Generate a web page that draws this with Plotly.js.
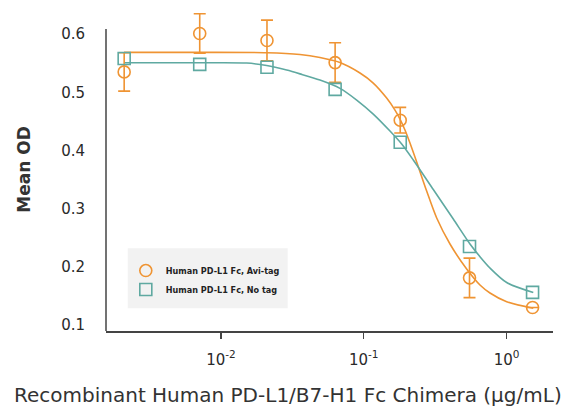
<!DOCTYPE html>
<html>
<head>
<meta charset="utf-8">
<script src="https://cdn.plot.ly/plotly-3.0.1.min.js"></script>
<style>html,body{margin:0;padding:0;background:#fff;}#chart{width:568px;height:407px;}</style>
</head>
<body>
<div id="chart"></div>
<script>
// concentration (µg/mL)
const conc = [0.0021, 0.0071, 0.021, 0.063, 0.18, 0.55, 1.52];
// Human PD-L1 Fc, Avi-tag
const aviMean = [0.535, 0.601, 0.589, 0.551, 0.452, 0.181, 0.130];
const aviErr  = [0.033, 0.034, 0.035, 0.034, 0.022, 0.034, 0.0];
// Human PD-L1 Fc, No tag
const noTagMean = [0.558, 0.548, 0.543, 0.505, 0.414, 0.235, 0.156];

// fitted curves
const aviFitX = [0.002093, 0.007128, 0.02089, 0.03574, 0.04935, 0.06813, 0.09405, 0.1165, 0.1446, 0.1654, 0.1793, 0.1943, 0.2106, 0.2347, 0.2757, 0.3240, 0.4015, 0.5255, 0.6512, 0.7651, 1.0016, 1.538];
const aviFitY = [0.5686, 0.5686, 0.5680, 0.5648, 0.5596, 0.5510, 0.5330, 0.5158, 0.4900, 0.4694, 0.4540, 0.4351, 0.4127, 0.3801, 0.3302, 0.2839, 0.2392, 0.1962, 0.1687, 0.1550, 0.1400, 0.1287];
const noTagFitX = [0.002093, 0.007128, 0.01514, 0.02089, 0.02885, 0.03574, 0.04935, 0.06813, 0.08919, 0.1165, 0.1526, 0.1843, 0.2222, 0.3068, 0.4234, 0.5542, 0.6512, 0.7651, 1.0016, 1.538];
const noTagFitY = [0.5507, 0.5507, 0.5502, 0.5459, 0.5381, 0.5316, 0.5210, 0.5067, 0.4866, 0.4625, 0.4333, 0.4110, 0.3835, 0.3328, 0.2821, 0.2392, 0.2174, 0.1979, 0.1730, 0.1558];

const xTickVals = [0.01, 0.1, 1];
const xTickText = ['10<sup>-2</sup>', '10<sup>-1</sup>', '10<sup>0</sup>'];
const yTickVals = [0.1, 0.2, 0.3, 0.4, 0.5, 0.6];
const yTickText = ['0.1', '0.2', '0.3', '0.4', '0.5', '0.6'];

const seriesNames = ['Human PD-L1 Fc, Avi-tag', 'Human PD-L1 Fc, No tag'];
const xTitle = 'Recombinant Human PD-L1/B7-H1 Fc Chimera (\u03BCg/mL)';
const yTitle = 'Mean OD';

const ORANGE = '#EF9433';
const TEAL = '#5FA9A1';
const FONT = '"DejaVu Sans", Arial, sans-serif';
const Y_BOTTOM = 0.0897, Y_AXIS_TOP = 0.6086, Y_RANGE_TOP = 0.6448;

const traces = [
  {x: aviFitX, y: aviFitY, mode: 'lines', line: {color: ORANGE, width: 1.6, shape: 'spline', smoothing: 0.8}, showlegend: false, hoverinfo: 'skip'},
  {x: noTagFitX, y: noTagFitY, mode: 'lines', line: {color: TEAL, width: 1.6, shape: 'spline', smoothing: 0.8}, showlegend: false, hoverinfo: 'skip'},
  {x: conc, y: aviMean, mode: 'markers', name: seriesNames[0],
   marker: {symbol: 'circle-open', size: 12, color: ORANGE, line: {width: 1.6, color: ORANGE}},
   error_y: {type: 'data', array: aviErr, visible: true, color: ORANGE, thickness: 1.6, width: 6}},
  {x: conc, y: noTagMean, mode: 'markers', name: seriesNames[1],
   marker: {symbol: 'square-open', size: 12, color: TEAL, line: {width: 1.6, color: TEAL}}}
];

const layout = {
  width: 568, height: 407,
  margin: {l: 106, r: 15, t: 8, b: 76},
  paper_bgcolor: '#fff', plot_bgcolor: '#fff',
  font: {family: FONT, color: '#333'},
  showlegend: true,
  legend: {x: 0.0443, y: 0.232, xanchor: 'left', yanchor: 'top', bgcolor: 'rgba(0,0,0,0)',
    font: {family: '"Liberation Sans Narrow", "DejaVu Sans Condensed", Arial, sans-serif', size: 9, color: '#222', weight: 'bold'}},
  shapes: [
    {type: 'rect', xref: 'paper', yref: 'y', x0: 0.0486, x1: 0.4065, y0: 0.1290, y1: 0.2320,
     fillcolor: '#F2F2F2', line: {width: 0}, layer: 'below'},
    {type: 'line', xref: 'paper', yref: 'y', x0: 0, x1: 0, y0: Y_BOTTOM, y1: Y_AXIS_TOP,
     line: {color: '#444', width: 1.5}, layer: 'above'}
  ],
  annotations: [{text: xTitle, xref: 'paper', yref: 'paper', x: 0.407, y: -0.1983,
    xanchor: 'center', yanchor: 'middle', showarrow: false, font: {family: FONT, size: 20, color: '#333'}}],
  xaxis: {type: 'log', range: [-2.805, 0.325], showgrid: false, zeroline: false,
    showline: true, linecolor: '#444', linewidth: 1.5,
    ticks: 'outside', ticklen: 6, tickwidth: 1.3, tickcolor: '#444', ticklabelstandoff: 8,
    tickvals: xTickVals, ticktext: xTickText,
    tickfont: {family: FONT, size: 15, color: '#2a2a2a'}},
  yaxis: {range: [Y_BOTTOM, Y_RANGE_TOP], showgrid: false, zeroline: false,
    showline: false,
    ticks: '', tickvals: yTickVals, ticktext: yTickText, ticklabelstandoff: 20,
    tickfont: {family: FONT, size: 15, color: '#2a2a2a'},
    title: {text: yTitle, font: {family: FONT, size: 17, color: '#333', weight: 'bold'}, standoff: 26}}
};

Plotly.newPlot('chart', traces, layout, {staticPlot: true, displayModeBar: false});
</script>
</body>
</html>
